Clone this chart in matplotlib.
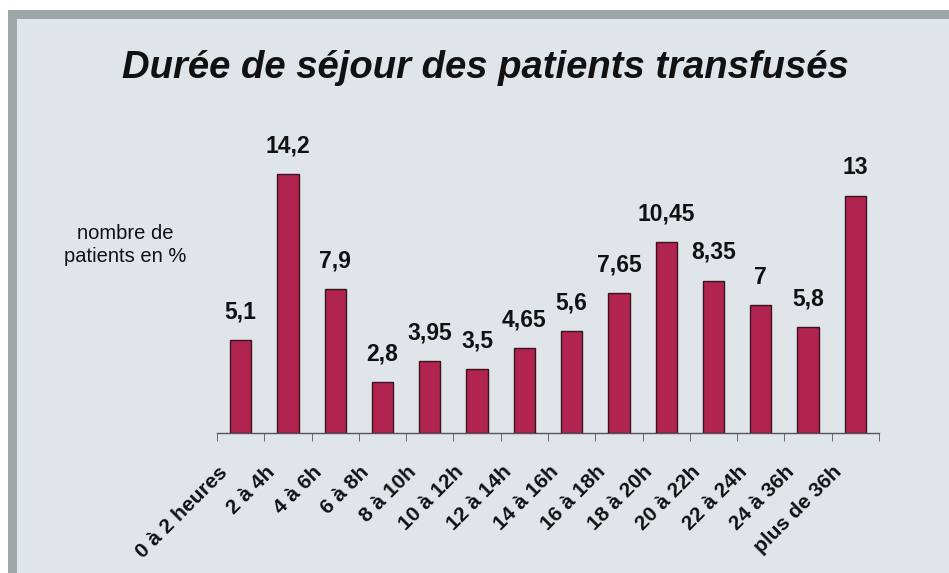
import matplotlib
matplotlib.use("Agg")
from matplotlib import pyplot as plt
from matplotlib.patches import Rectangle
from matplotlib.transforms import ScaledTranslation

categories = ["0 à 2 heures", "2 à 4h", "4 à 6h", "6 à 8h", "8 à 10h", "10 à 12h",
              "12 à 14h", "14 à 16h", "16 à 18h", "18 à 20h", "20 à 22h", "22 à 24h",
              "24 à 36h", "plus de 36h"]
values = [5.1, 14.2, 7.9, 2.8, 3.95, 3.5, 4.65, 5.6, 7.65, 10.45, 8.35, 7.0, 5.8, 13.0]
value_labels = ["5,1", "14,2", "7,9", "2,8", "3,95", "3,5", "4,65", "5,6", "7,65",
                "10,45", "8,35", "7", "5,8", "13"]

plt.rcParams['font.family'] = ['Liberation Sans', 'DejaVu Sans']

W, H = 949, 573
fig = plt.figure(figsize=(W / 100, H / 100), dpi=100, facecolor='white')

# fond du panneau + bordure grise en haut et a gauche
fig.patches.append(Rectangle((8 / W, 0), 1, 1 - 10 / H, transform=fig.transFigure,
                             facecolor='#dfe5e8', edgecolor='none', zorder=-3))
fig.patches.append(Rectangle((8 / W, 1 - 19 / H), 1, 9 / H, transform=fig.transFigure,
                             facecolor='#9ea7a8', edgecolor='none', zorder=-2))
fig.patches.append(Rectangle((8 / W, 0), 9 / W, 1 - 10 / H, transform=fig.transFigure,
                             facecolor='#9ea7a8', edgecolor='none', zorder=-2))

ax = fig.add_axes([217 / W, 1 - 433 / H, 662 / W, 292 / H])
ax.patch.set_visible(False)

x = list(range(len(categories)))
ax.bar(x, values, width=0.45, color='#b0244f', edgecolor='#3a1420', linewidth=1)
ax.set_xlim(-0.5, len(categories) - 0.5)
ax.set_ylim(0, 16)

for xi, v, lab in zip(x, values, value_labels):
    ax.annotate(lab, (xi, v), xytext=(0, 12), textcoords='offset points',
                ha='center', va='bottom', fontsize=16.5, fontweight='bold',
                color='#111111', annotation_clip=False)

for s in ['top', 'right', 'left']:
    ax.spines[s].set_visible(False)
ax.spines['bottom'].set_color('#555555')
ax.spines['bottom'].set_linewidth(1)
ax.set_yticks([])

ax.set_xticks(x)
ax.set_xticklabels(categories, rotation=45, ha='right', rotation_mode='anchor',
                   fontsize=15, fontweight='bold', color='#111111')
ax.tick_params(axis='x', which='major', length=0, pad=14)
shift = ScaledTranslation(-23 / 100, -10 / 100, fig.dpi_scale_trans)
for lbl in ax.get_xticklabels():
    lbl.set_transform(lbl.get_transform() + shift)
ax.set_xticks([i - 0.5 for i in range(len(categories) + 1)], minor=True)
ax.tick_params(axis='x', which='minor', length=6, color='#555555', direction='out')

fig.text(485 / W, 1 - 68 / H, "Durée de séjour des patients transfusés",
         ha='center', va='center', fontsize=27.5, fontweight='bold', style='italic',
         color='#111111')
fig.text(125 / W, 1 - 245 / H, "nombre de\npatients en %", ha='center', va='center',
         fontsize=14.5, color='#111111', linespacing=1.3)

fig.savefig("out.png", dpi=100, facecolor=fig.get_facecolor())
